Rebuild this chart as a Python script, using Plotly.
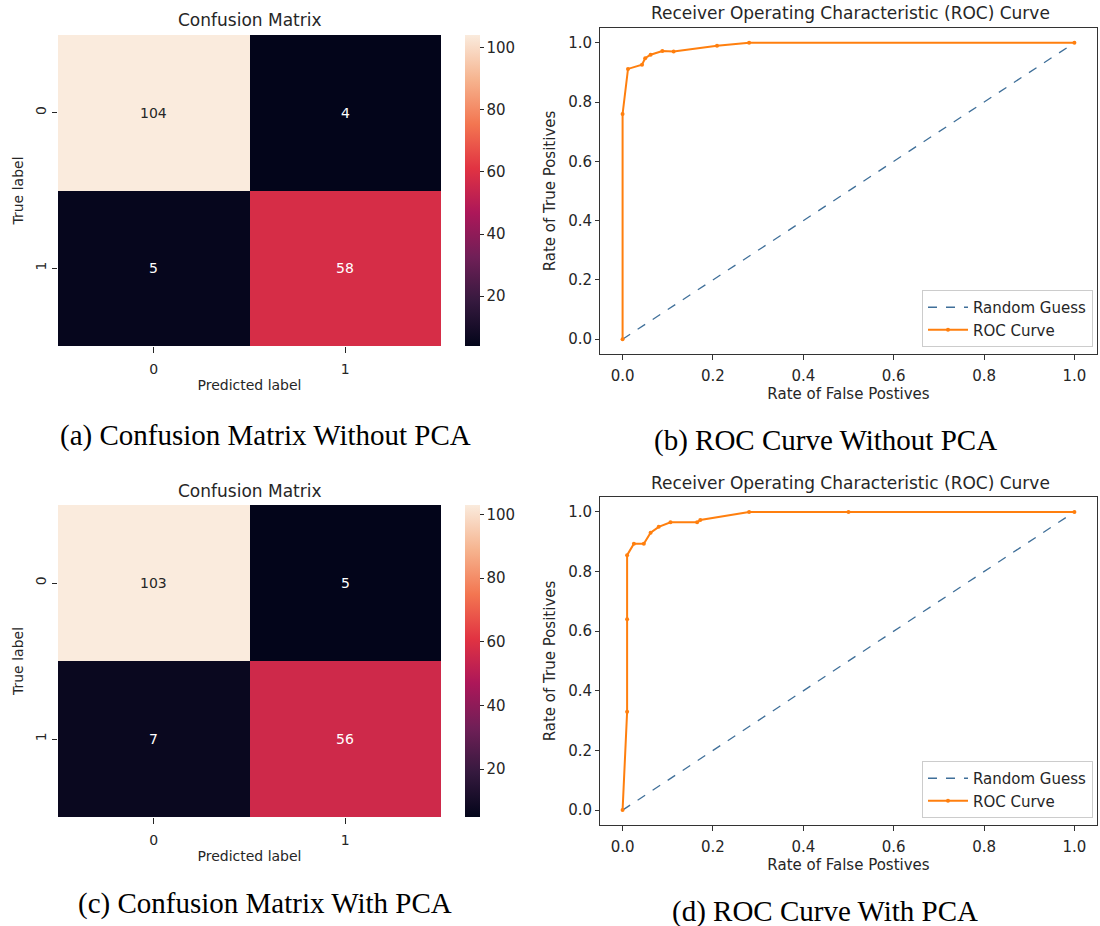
import plotly.graph_objects as go

W, H = 1100, 926

# ---------------- data ----------------
classes = ["0", "1"]
cm_without_pca = [[104, 4], [5, 58]]
cm_with_pca = [[103, 5], [7, 56]]

random_guess_fpr = [0.0, 1.0]
random_guess_tpr = [0.0, 1.0]

roc_without_fpr = [0.0, 0.0, 0.012, 0.043, 0.05, 0.062, 0.088, 0.113, 0.209, 0.28, 1.0]
roc_without_tpr = [0.0, 0.76, 0.912, 0.926, 0.948, 0.96, 0.972, 0.971, 0.99, 1.0, 1.0]

roc_with_fpr = [0.0, 0.01, 0.01, 0.01, 0.025, 0.047, 0.062, 0.08, 0.106, 0.165, 0.172, 0.28, 0.5, 1.0]
roc_with_tpr = [0.0, 0.33, 0.64, 0.855, 0.893, 0.893, 0.93, 0.95, 0.965, 0.965, 0.973, 1.0, 1.0, 1.0]

captions = ["(a) Confusion Matrix Without PCA", "(b) ROC Curve Without PCA",
            "(c) Confusion Matrix With PCA", "(d) ROC Curve With PCA"]

# seaborn "rocket" approximation
rocket = [
    [0.0, "#03051a"], [0.143, "#35193e"], [0.286, "#701f57"], [0.429, "#ad1759"],
    [0.571, "#e13342"], [0.714, "#f37651"], [0.857, "#f6b48f"], [1.0, "#faebdd"],
]

TXT = "#262626"
FONT = "DejaVu Sans"


def px_x(p):
    return p / W


def px_y(p):
    return 1 - p / H


fig = go.Figure()

# --------------- heatmaps ---------------
heat_specs = [
    dict(z=cm_without_pca, xa="x", ya="y", top=35, bot=346),
    dict(z=cm_with_pca, xa="x3", ya="y3", top=505, bot=817),
]
for hs in heat_specs:
    z = hs["z"]
    flat = [v for row in z for v in row]
    zmin, zmax = min(flat), max(flat)
    fig.add_trace(go.Heatmap(
        z=z, x=classes, y=classes, xaxis=hs["xa"], yaxis=hs["ya"],
        colorscale=rocket, zmin=zmin, zmax=zmax, showscale=True,
        hoverinfo="z",
        colorbar=dict(
            x=px_x(465), xanchor="left", xpad=0, ypad=0,
            y=px_y((hs["top"] + hs["bot"]) / 2), yanchor="middle",
            len=(hs["bot"] - hs["top"]) / H, lenmode="fraction",
            thickness=15, outlinewidth=0,
            tickvals=[20, 40, 60, 80, 100], ticks="outside", ticklen=4,
            tickcolor=TXT, tickfont=dict(family=FONT, size=15, color=TXT),
        ),
    ))
    for i, row in enumerate(z):
        for j, v in enumerate(row):
            frac = (v - zmin) / (zmax - zmin)
            col = TXT if frac > 0.7 else "white"
            fig.add_annotation(x=classes[j], y=classes[i], xref=hs["xa"], yref=hs["ya"],
                               text=str(v), showarrow=False,
                               font=dict(family=FONT, size=14, color=col))

# --------------- ROC curves ---------------
roc_specs = [
    dict(fpr=roc_without_fpr, tpr=roc_without_tpr, xa="x2", ya="y2", legend="legend"),
    dict(fpr=roc_with_fpr, tpr=roc_with_tpr, xa="x4", ya="y4", legend="legend2"),
]
for rs in roc_specs:
    fig.add_trace(go.Scatter(
        x=random_guess_fpr, y=random_guess_tpr, xaxis=rs["xa"], yaxis=rs["ya"],
        mode="lines", name="Random Guess",
        line=dict(color="#3f6f99", width=1.3, dash="dash"),
        legend=rs["legend"],
    ))
    fig.add_trace(go.Scatter(
        x=rs["fpr"], y=rs["tpr"], xaxis=rs["xa"], yaxis=rs["ya"],
        mode="lines+markers", name="ROC Curve",
        line=dict(color="#ff7f0e", width=2),
        marker=dict(size=4, color="#ff7f0e"), legend=rs["legend"],
    ))

# --------------- axes ---------------
heat_tick = dict(family=FONT, size=14, color=TXT)
heat_title = dict(family=FONT, size=14, color=TXT)
roc_tick = dict(family=FONT, size=15, color=TXT)
roc_title = dict(family=FONT, size=15, color=TXT)

heat_x = dict(type="category", showgrid=False, zeroline=False, showline=False,
              automargin=False, ticklabelstandoff=4,
              ticks="outside", ticklen=6, tickcolor=TXT, tickfont=heat_tick,
              title=dict(text="Predicted label", font=heat_title, standoff=4))
heat_y = dict(type="category", showgrid=False, zeroline=False, showline=False,
              automargin=False,
              ticks="outside", ticklen=5, tickcolor=TXT, tickfont=heat_tick,
              tickangle=-90, autorange="reversed",
              title=dict(text="True label", font=heat_title, standoff=6))

roc_x = dict(range=[-0.05, 1.05], dtick=0.2, tickformat=".1f", showgrid=False,
             automargin=False, ticklabelstandoff=3,
             zeroline=False, showline=True, mirror=True, linecolor="#333",
             linewidth=1, ticks="outside", ticklen=5, tickcolor="#333", tickfont=roc_tick,
             title=dict(text="Rate of False Postives", font=roc_title, standoff=4))
roc_y = dict(range=[-0.05, 1.05], dtick=0.2, tickformat=".1f", showgrid=False,
             automargin=False,
             zeroline=False, showline=True, mirror=True, linecolor="#333",
             linewidth=1, ticks="outside", ticklen=4, tickcolor="#333", tickfont=roc_tick,
             title=dict(text="Rate of True Positives", font=roc_title, standoff=8))

hx = [px_x(58), px_x(441)]
rx = [px_x(600), px_x(1097)]

fig.update_layout(
    xaxis=dict(heat_x, domain=hx, anchor="y"),
    yaxis=dict(heat_y, domain=[px_y(346), px_y(35)], anchor="x"),
    xaxis2=dict(roc_x, domain=rx, anchor="y2"),
    yaxis2=dict(roc_y, domain=[px_y(354), px_y(28)], anchor="x2"),
    xaxis3=dict(heat_x, domain=hx, anchor="y3"),
    yaxis3=dict(heat_y, domain=[px_y(817), px_y(505)], anchor="x3"),
    xaxis4=dict(roc_x, domain=rx, anchor="y4"),
    yaxis4=dict(roc_y, domain=[px_y(825), px_y(497)], anchor="x4"),
)

legend_style = dict(xanchor="right", yanchor="bottom", bgcolor="rgba(255,255,255,0.8)",
                    bordercolor="#cccccc", borderwidth=1,
                    font=dict(family=FONT, size=15, color=TXT),
                    tracegroupgap=0, itemwidth=40)
fig.update_layout(
    legend=dict(legend_style, x=px_x(1093), y=px_y(347)),
    legend2=dict(legend_style, x=px_x(1093), y=px_y(818)),
)

# --------------- titles & captions ---------------
titles = [
    ("Confusion Matrix", 250, 20, 17),
    ("Receiver Operating Characteristic (ROC) Curve", 850, 13, 17),
    ("Confusion Matrix", 250, 491, 17),
    ("Receiver Operating Characteristic (ROC) Curve", 850, 483, 17),
]
for t, x, y, s in titles:
    fig.add_annotation(text=t, x=px_x(x), y=px_y(y), xref="paper", yref="paper",
                       showarrow=False, xanchor="center", yanchor="middle",
                       font=dict(family=FONT, size=s, color=TXT))

cap_pos = [(265, 435), (825, 440), (265, 903), (825, 911)]
for c, (x, y) in zip(captions, cap_pos):
    fig.add_annotation(text=c, x=px_x(x), y=px_y(y), xref="paper", yref="paper",
                       showarrow=False, xanchor="center", yanchor="middle",
                       font=dict(family="Liberation Serif", size=29, color="black"))

fig.update_layout(
    width=W, height=H, margin=dict(l=0, r=0, t=0, b=0, autoexpand=False),
    paper_bgcolor="white", plot_bgcolor="white", showlegend=True,
)

fig.write_html(
    "out.html",
    config={"displayModeBar": False},
    post_script="document.body.style.margin='0';document.body.style.overflow='hidden';",
)
